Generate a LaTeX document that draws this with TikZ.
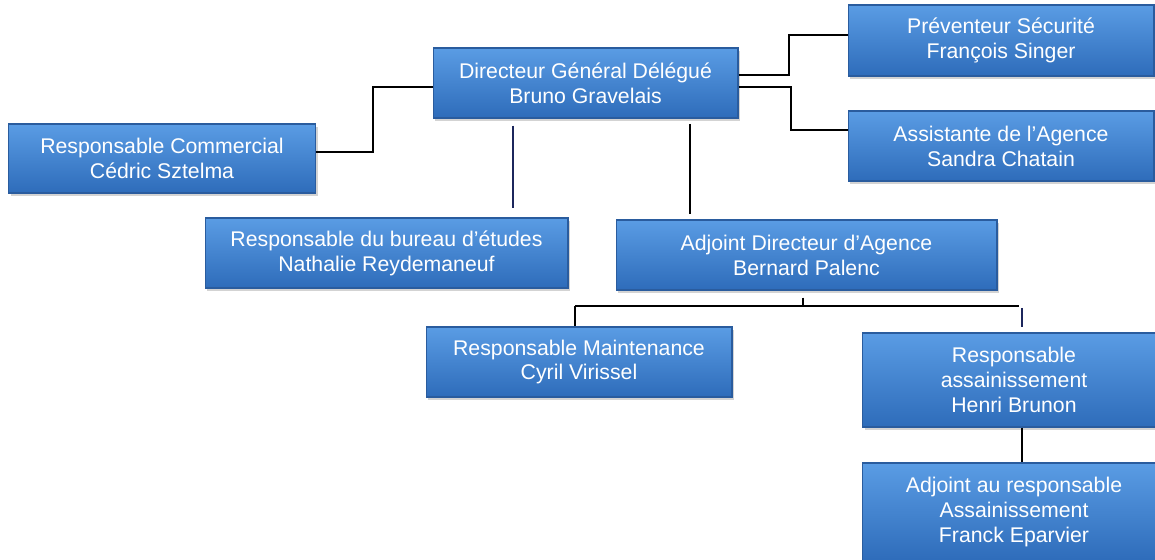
\documentclass[tikz,border=0pt]{standalone}
\usepackage{fontspec}
\setmainfont{Liberation Sans}
\usepackage{tikz}
\usetikzlibrary{shapes,arrows,shadows}
\usetikzlibrary{positioning,fit}
\definecolor{boxtop}{RGB}{90,156,228}
\definecolor{boxbot}{RGB}{46,108,186}
\definecolor{boxedge}{RGB}{42,92,158}
\definecolor{navyline}{RGB}{28,38,92}
\tikzstyle{post} = [draw=boxedge, line width=0.6pt, top color=boxtop, bottom color=boxbot,
    text=white, align=center, inner sep=0pt,
    font=\fontsize{12.1}{14.2}\selectfont,
    drop shadow={opacity=0.35, shadow xshift=1.2pt, shadow yshift=-1.8pt}]
\tikzstyle{link} = [draw, black, line width=1.1pt]

\begin{document}
\begin{tikzpicture}[x=0.02cm, y=-0.02cm]
  \clip (0,0) rectangle (1155,559);
  \useasboundingbox (0,0) rectangle (1155,559);
  % boxes
  \node [post, minimum width=6.1cm, minimum height=1.4cm] (dgd) at (585.5,83) {Directeur Général Délégué\\Bruno Gravelais};
  \node [post, minimum width=6.14cm, minimum height=1.38cm] (comm) at (162,158.5) {Responsable Commercial\\Cédric Sztelma};
  \node [post, minimum width=6.12cm, minimum height=1.42cm] (prev) at (1001,40.5) {Préventeur Sécurité\\François Singer};
  \node [post, minimum width=6.12cm, minimum height=1.4cm] (asst) at (1001,146) {Assistante de l’Agence\\Sandra Chatain};
  \node [post, minimum width=7.26cm, minimum height=1.4cm] (bur) at (386.5,253) {Responsable du bureau d’études\\Nathalie Reydemaneuf};
  \node [post, minimum width=7.62cm, minimum height=1.4cm] (adj) at (806.5,255) {Adjoint Directeur d’Agence\\Bernard Palenc};
  \node [post, minimum width=6.12cm, minimum height=1.4cm] (maint) at (579,362) {Responsable Maintenance\\Cyril Virissel};
  \node [post, minimum width=6.06cm, minimum height=1.88cm] (assain) at (1014,380) {Responsable\\assainissement\\Henri Brunon};
  \node [post, minimum width=6.06cm, minimum height=1.96cm] (adjass) at (1014,512) {Adjoint au responsable\\Assainissement\\Franck Eparvier};
  % connectors
  \coordinate (j1) at (803,306);
  \draw [link] (dgd.west |- 0,87) -- (373,87) |- (comm.east |- 0,152);
  \draw [link] (dgd.east |- 0,75) -- (789,75) |- (prev.west |- 0,35);
  \draw [link] (dgd.east |- 0,87) -- (791,87) |- (asst.west |- 0,130);
  \draw [link, navyline, line width=1pt, shorten <=4pt, shorten >=5.5pt] (dgd.south -| 513,0) -- (bur.north -| 513,0);
  \draw [link, shorten <=3pt, shorten >=3pt] (dgd.south -| 690,0) -- (adj.north -| 690,0);
  \draw [link, shorten <=4pt] (adj.south -| j1) -- (j1);
  \draw [link] (575,306) -- (1019,306);
  \draw [link] (575,306) -- (maint.north -| 575,0);
  \draw [link, navyline, line width=1pt, shorten <=0.5pt, shorten >=3pt] (1022,307) -- (assain.north -| 1022,0);
  \draw [link] (assain.south -| 1022,0) -- (adjass.north -| 1022,0);
\end{tikzpicture}
\end{document}
